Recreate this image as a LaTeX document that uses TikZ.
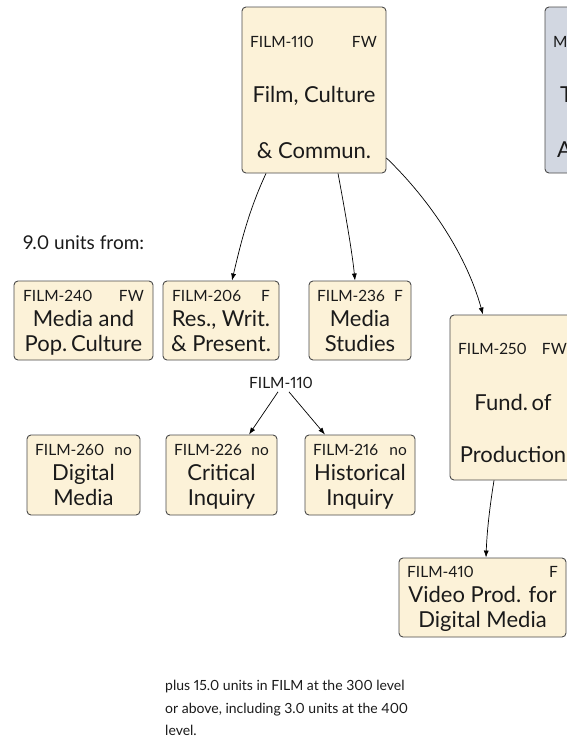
\documentclass[tikz,border=0pt]{standalone}
\usepackage{fontspec}
\setmainfont[Numbers=Proportional]{Lato}
\usetikzlibrary{arrows.meta}
\definecolor{cream}{HTML}{FCF2D8}
\definecolor{greyblue}{HTML}{D2D7E1}
\definecolor{edgegrey}{HTML}{4A4A4A}
\definecolor{txt}{HTML}{1A1A1A}
\tikzset{
  box/.style={draw=edgegrey, line width=0.9pt, rounded corners=4pt, fill=cream, inner sep=0pt},
  greybox/.style={box, fill=greyblue},
  hdr/.style={font=\fontsize{15.5}{17}\selectfont, inner sep=0pt, text=txt},
  ttl/.style={font=\fontsize{22}{24}\selectfont, inner sep=0pt, text=txt},
  note/.style={font=\fontsize{14}{22.5}\selectfont, inner sep=0pt, text=txt, align=left},
  arr/.style={-{Latex[length=7pt,width=5pt]}, line width=0.7pt, black},
}
\begin{document}
\begin{tikzpicture}[x=1pt,y=-1pt]
\path[use as bounding box, fill=white] (0,0) rectangle (567,744);
\clip (0,0) rectangle (567,744);

% FILM-110
\node[box, minimum width=144pt, minimum height=166pt] (f110) at (314,90) {};
\node[hdr, anchor=base west] (f110c) at (250,47) {FILM-110};
\node[hdr, anchor=base east] (f110s) at (377,47) {FW};
\node[ttl, anchor=base] (f110a) at (314,102) {Film, Culture};
\node[ttl, anchor=base] (f110b) at (314,158) {\& Commun.};

% grey box (cut at edge)
\node[greybox, minimum width=155pt, minimum height=166pt] (gbox) at (622.5,90) {};
\node[hdr, anchor=base west] (gboxc) at (553,47) {M};
\node[ttl, anchor=base west] (gboxa) at (560,102) {T};
\node[ttl, anchor=base west] (gboxb) at (557,157) {A};

% 9.0 units from
\node[font=\fontsize{19}{21}\selectfont, inner sep=0pt, text=txt, anchor=base west] (units) at (23,249) {9.0 units from:};

% FILM-240
\node[box, minimum width=139pt, minimum height=79pt] (f240) at (83.5,320.5) {};
\node[hdr, anchor=base west] (f240c) at (23,301) {FILM-240};
\node[hdr, anchor=base east] (f240s) at (144,301) {FW};
\node[ttl, anchor=base] (f240a) at (83.5,326) {Media and};
\node[ttl, anchor=base] (f240b) at (83.5,351) {Pop.\,Culture};

% FILM-206
\node[box, minimum width=116pt, minimum height=79pt] (f206) at (221,320.5) {};
\node[hdr, anchor=base west] (f206c) at (172,301) {FILM-206};
\node[hdr, anchor=base east] (f206s) at (270,301) {F};
\node[ttl, anchor=base] (f206a) at (221,326) {Res., Writ.};
\node[ttl, anchor=base] (f206b) at (221,351) {\& Present.};

% FILM-236
\node[box, minimum width=102pt, minimum height=79pt] (f236) at (360,320.5) {};
\node[hdr, anchor=base west] (f236c) at (317,301) {FILM-236};
\node[hdr, anchor=base east] (f236s) at (403,301) {F};
\node[ttl, anchor=base] (f236a) at (360,326) {Media};
\node[ttl, anchor=base] (f236b) at (360,351) {Studies};

% FILM-250
\node[box, minimum width=126pt, minimum height=165pt] (f250) at (513,397.5) {};
\node[hdr, anchor=base west] (f250c) at (458,354) {FILM-250};
\node[hdr, anchor=base east] (f250s) at (567,354) {FW};
\node[ttl, anchor=base] (f250a) at (513,410) {Fund.\,of};
\node[ttl, anchor=base] (f250b) at (513,462) {Production};

% prerequisite label
\node[hdr, inner sep=3pt] (lab110) at (281,383) {FILM-110};

% FILM-260
\node[box, minimum width=113pt, minimum height=80pt] (f260) at (83.5,475) {};
\node[hdr, anchor=base west] (f260c) at (35,455) {FILM-260};
\node[hdr, anchor=base east] (f260s) at (132,455) {no};
\node[ttl, anchor=base] (f260a) at (83.5,480) {Digital};
\node[ttl, anchor=base] (f260b) at (83.5,505) {Media};

% FILM-226
\node[box, minimum width=111pt, minimum height=80pt] (f226) at (221.5,475) {};
\node[hdr, anchor=base west] (f226c) at (174,455) {FILM-226};
\node[hdr, anchor=base east] (f226s) at (269,455) {no};
\node[ttl, anchor=base] (f226a) at (221.5,480) {Critical};
\node[ttl, anchor=base] (f226b) at (221.5,505) {Inquiry};

% FILM-216
\node[box, minimum width=110pt, minimum height=80pt] (f216) at (360,475) {};
\node[hdr, anchor=base west] (f216c) at (313,455) {FILM-216};
\node[hdr, anchor=base east] (f216s) at (407,455) {no};
\node[ttl, anchor=base] (f216a) at (360,480) {Historical};
\node[ttl, anchor=base] (f216b) at (360,505) {Inquiry};

% FILM-410
\node[box, minimum width=167pt, minimum height=79pt] (f410) at (482.5,597.5) {};
\node[hdr, anchor=base west] (f410c) at (407,577) {FILM-410};
\node[hdr, anchor=base east] (f410s) at (558,577) {F};
\node[ttl, anchor=base] (f410a) at (482.5,602) {Video Prod. for};
\node[ttl, anchor=base] (f410b) at (482.5,627) {Digital Media};

% bottom note
\node[note, anchor=north west] (plus) at (165,680) {plus 15.0 units in FILM at the 300 level\\or above, including 3.0 units at the 400\\level.};

% connectors
\draw[arr] ([xshift=-48pt]f110.south) .. controls (249,210) and (241,242) .. ([xshift=11pt]f206.north);
\draw[arr] ([xshift=24pt]f110.south) .. controls (343,200) and (352,250) .. ([xshift=-5pt]f236.north);
\draw[arr] ([yshift=-68pt]f110.east) .. controls (425,195) and (465,250) .. ([xshift=-30pt]f250.north);
\draw[arr] ([xshift=-19pt]f250.south) .. controls (490,505) and (487,530) .. ([xshift=3.5pt]f410.north);
\draw[arr] ([xshift=-3pt]lab110.south) -- ([xshift=27.5pt]f226.north);
\draw[arr] ([xshift=8pt]lab110.south) -- ([xshift=-35pt]f216.north);
\end{tikzpicture}
\end{document}
